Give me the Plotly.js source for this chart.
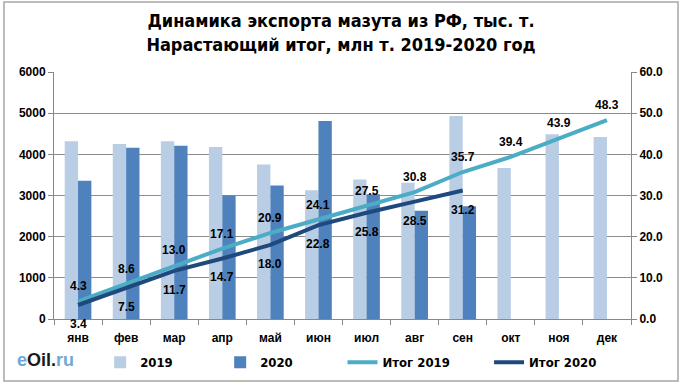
<!DOCTYPE html>
<html>
<head>
<meta charset="utf-8">
<script src="https://cdn.plot.ly/plotly-3.0.1.min.js"></script>
<style>html,body{margin:0;padding:0;background:#fff;}#chart{width:682px;height:389px;}</style>
</head>
<body>
<div id="chart"></div>
<script>
var months = ['янв','фев','мар','апр','май','июн','июл','авг','сен','окт','ноя','дек'];
var exp2019 = [4320, 4250, 4320, 4180, 3750, 3130, 3390, 3310, 4930, 3670, 4490, 4420];
var exp2020 = [3360, 4160, 4210, 3000, 3240, 4810, 3030, 2630, 2740];
var cum2019 = [4.3, 8.6, 13.0, 17.1, 20.9, 24.1, 27.5, 30.8, 35.7, 39.4, 43.9, 48.3];
var cum2020 = [3.4, 7.5, 11.7, 14.7, 18.0, 22.8, 25.8, 28.5, 31.2];
var seriesNames = ['2019', '2020', 'Итог 2019', 'Итог 2020'];

var boldFont = '"Liberation Sans", Arial, sans-serif';
var narrowFont = '"Liberation Sans Narrow", "Arial Narrow", "DejaVu Sans Condensed", sans-serif';

var traces = [
  {type:'bar', name:seriesNames[0], x:months, y:exp2019, marker:{color:'#B9CDE5'}, legend:'legend'},
  {type:'bar', name:seriesNames[1], x:months.slice(0, exp2020.length), y:exp2020, marker:{color:'#4F81BD'}, legend:'legend2'},
  {type:'scatter', mode:'lines', name:seriesNames[2], x:months, y:cum2019, yaxis:'y2', line:{color:'#4BACC6', width:4}, legend:'legend3'},
  {type:'scatter', mode:'lines', name:seriesNames[3], x:months.slice(0, cum2020.length), y:cum2020, yaxis:'y2', line:{color:'#1F497D', width:4}, legend:'legend4'}
];

var annotations = [];
cum2019.forEach(function(v, i){
  annotations.push({x:months[i], y:v, xref:'x', yref:'y2', text:v.toFixed(1), showarrow:false, yshift:15,
    font:{family:boldFont, size:12, color:'#000', weight:'bold'}});
});
cum2020.forEach(function(v, i){
  annotations.push({x:months[i], y:v, xref:'x', yref:'y2', text:v.toFixed(1), showarrow:false, yshift:-19,
    font:{family:boldFont, size:12, color:'#000', weight:'bold'}});
});
annotations.push({xref:'paper', yref:'paper', x:-0.068, y:-0.168, xanchor:'left', yanchor:'middle', showarrow:false,
  text:'<span style="color:#6FA8D8">e</span><span style="color:#1a1a1a">Oil</span><span style="color:#1a1a1a">.</span><span style="color:#6FA8D8">ru</span>',
  font:{family:'"Liberation Sans", Arial, sans-serif', size:18, weight:'bold'}});

function leg(x){
  return {orientation:'h', x:x, y:-0.175, xanchor:'left', yanchor:'middle', bgcolor:'rgba(0,0,0,0)',
    font:{family:narrowFont, size:13, color:'#000', weight:'bold'}};
}

var layout = {
  width:682, height:389,
  margin:{l:54, r:51, t:72, b:70},
  paper_bgcolor:'#fff', plot_bgcolor:'#fff',
  title:{text:'Динамика экспорта мазута из РФ, тыс. т.<br>Нарастающий итог, млн т. 2019-2020 год',
    font:{family:narrowFont, size:18, color:'#000', weight:'bold'}, x:0.5, xref:'container', y:0.93, yanchor:'top'},
  barmode:'group', bargap:0.445, bargroupgap:0,
  showlegend:true,
  legend:leg(0.08), legend2:leg(0.288), legend3:leg(0.5), legend4:leg(0.754),
  xaxis:{type:'category', tickson:'boundaries', ticks:'outside', ticklen:5, tickcolor:'#888',
    showline:true, linecolor:'#888', linewidth:1, showgrid:false, ticklabelstandoff:8,
    tickfont:{family:boldFont, size:12, color:'#000', weight:'bold'}},
  yaxis:{range:[0,6000], dtick:1000, ticks:'outside', ticklen:5, tickcolor:'#888',
    showline:true, linecolor:'#888', gridcolor:'#8c8c8c', gridwidth:1, zeroline:false,
    tickfont:{family:boldFont, size:12, color:'#000', weight:'bold'}},
  yaxis2:{range:[0,60], dtick:10, tickformat:'.1f', overlaying:'y', side:'right', ticks:'outside', ticklen:5,
    tickcolor:'#888', showline:true, linecolor:'#888', showgrid:false, zeroline:false,
    tickfont:{family:boldFont, size:12, color:'#000', weight:'bold'}},
  annotations:annotations,
  shapes:[{type:'rect', xref:'paper', yref:'paper', x0:-0.0867, x1:1.0815, y0:-0.251, y1:1.283,
    line:{color:'#A6A6A6', width:1.5}, layer:'below'}]
};

Plotly.newPlot('chart', traces, layout, {staticPlot:true});
</script>
</body>
</html>
